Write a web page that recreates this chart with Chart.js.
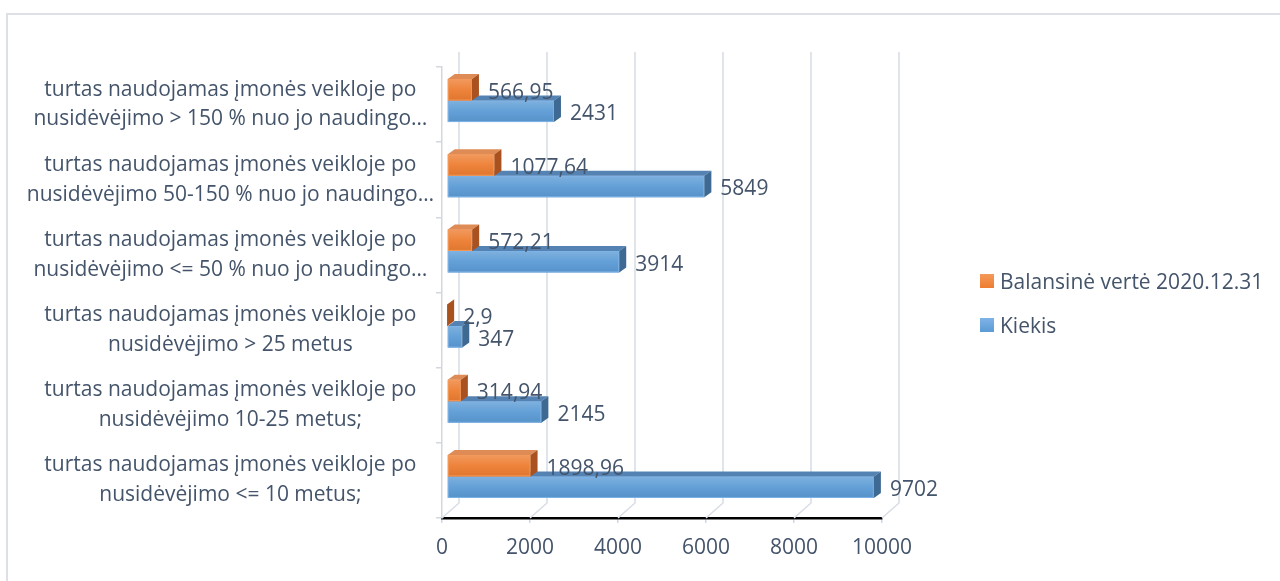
<!DOCTYPE html>
<html>
<head>
<meta charset="utf-8">
<script src="https://cdn.jsdelivr.net/npm/chart.js@4.4.1/dist/chart.umd.min.js"></script>
<style>
    html, body { margin: 0; padding: 0; background: #fff; }
    #wrap { position: relative; width: 1280px; height: 581px; overflow: hidden; }
    #frame {
        position: absolute; left: 6px; top: 13px; width: 1400px; height: 700px;
        border-left: 2px solid #dde1e7; border-top: 2px solid #dde1e7;
    }
    #chart { position: absolute; left: 0; top: 0; }
    #legend {
        position: absolute; left: 980px; top: 266px;
        font-family: "Open Sans", "Noto Sans", sans-serif; font-size: 21px; color: #44546a;
    }
    .item { display: flex; align-items: center; height: 30px; margin-bottom: 14px; white-space: nowrap; }
    .box { width: 14px; height: 14px; margin-right: 6px; }
</style>
</head>
<body>
<div id="wrap">
    <div id="frame"></div>
    <canvas id="chart" width="1280" height="581"></canvas>
    <div id="legend"></div>
</div>
<script>
// data (top to bottom)
const categories = [
    ['turtas naudojamas įmonės veikloje po', 'nusidėvėjimo > 150 % nuo jo naudingo…'],
    ['turtas naudojamas įmonės veikloje po', 'nusidėvėjimo 50-150 % nuo jo naudingo…'],
    ['turtas naudojamas įmonės veikloje po', 'nusidėvėjimo <= 50 % nuo jo naudingo…'],
    ['turtas naudojamas įmonės veikloje po', 'nusidėvėjimo > 25 metus'],
    ['turtas naudojamas įmonės veikloje po', 'nusidėvėjimo 10-25 metus;'],
    ['turtas naudojamas įmonės veikloje po', 'nusidėvėjimo <= 10 metus;']
];
const balansineVerte = [566.95, 1077.64, 572.21, 2.9, 314.94, 1898.96];
const kiekis = [2431, 5849, 3914, 347, 2145, 9702];
const seriesNames = ['Balansinė vertė 2020.12.31', 'Kiekis'];
const xMin = 0, xMax = 10000, xStep = 2000;

const TEXT = '#44546a';
const FONT = '"Open Sans", "Noto Sans", sans-serif';
const FSIZE = 21;

// face colours for the fake 3D look
const faces = [
    { front: '#ed7d31', top: '#de8b55', side: '#a9521f', hi: '#f59a5a' },
    { front: '#5b9bd5', top: '#5483b3', side: '#3e6993', hi: '#7fb3e6' }
];

// bar depth and floor depth
const BAR_DX = 7, BAR_DY = -5;
const FLOOR_DX = 17, FLOOR_DY = -15;
const SHIFT_X = 5, SHIFT_Y = -4;

function fmt(v) {
    return String(v).replace('.', ',');
}

const legend = document.getElementById('legend');
seriesNames.forEach((name, i) => {
    const row = document.createElement('div');
    row.className = 'item';
    row.innerHTML = '<span class="box" style="background:linear-gradient(' + faces[i].hi + ',' + faces[i].front + ')"></span>' + name;
    legend.appendChild(row);
});

const threeD = {
    id: 'threeD',
    beforeDatasetsDraw(chart) {
        const ctx = chart.ctx;
        const x = chart.scales.x;
        const area = chart.chartArea;
        // back wall grid + floor diagonals
        ctx.save();
        ctx.strokeStyle = '#d9dee6';
        ctx.lineWidth = 1.6;
        x.ticks.forEach(t => {
            const px = x.getPixelForValue(t.value);
            ctx.beginPath();
            ctx.moveTo(px, area.bottom);
            ctx.lineTo(px + FLOOR_DX, area.bottom + FLOOR_DY);
            ctx.lineTo(px + FLOOR_DX, area.top + FLOOR_DY);
            ctx.stroke();
        });
        ctx.restore();
        ctx.save();
        ctx.translate(SHIFT_X, SHIFT_Y);
    },
    afterDatasetDraw(chart, args) {
        const ctx = chart.ctx;
        const f = faces[args.index];
        args.meta.data.forEach(el => {
            const p = el.getProps(['x', 'y', 'base', 'height'], true);
            const top = p.y - p.height / 2, bot = p.y + p.height / 2;
            const g = ctx.createLinearGradient(0, top, 0, bot);
            g.addColorStop(0, 'rgba(255,255,255,0.22)');
            g.addColorStop(0.5, 'rgba(255,255,255,0.05)');
            g.addColorStop(1, 'rgba(0,0,0,0.06)');
            ctx.fillStyle = g;
            ctx.fillRect(p.base, top, p.x - p.base, p.height);
            ctx.strokeStyle = f.hi;
            ctx.lineWidth = 1;
            ctx.strokeRect(p.base + 0.5, top + 0.5, Math.max(p.x - p.base - 1, 0), p.height - 1);
            // top face
            ctx.fillStyle = f.top;
            ctx.beginPath();
            ctx.moveTo(p.base, top);
            ctx.lineTo(p.x, top);
            ctx.lineTo(p.x + BAR_DX, top + BAR_DY);
            ctx.lineTo(p.base + BAR_DX, top + BAR_DY);
            ctx.closePath();
            ctx.fill();
            // side face
            ctx.fillStyle = f.side;
            ctx.beginPath();
            ctx.moveTo(p.x, top);
            ctx.lineTo(p.x + BAR_DX, top + BAR_DY);
            ctx.lineTo(p.x + BAR_DX, bot + BAR_DY);
            ctx.lineTo(p.x, bot);
            ctx.closePath();
            ctx.fill();
        });
    },
    afterDatasetsDraw(chart) {
        const ctx = chart.ctx;
        ctx.font = FSIZE + 'px ' + FONT;
        ctx.fillStyle = TEXT;
        ctx.textAlign = 'left';
        ctx.textBaseline = 'middle';
        chart.data.datasets.forEach((ds, i) => {
            chart.getDatasetMeta(i).data.forEach((el, j) => {
                const p = el.getProps(['x', 'y'], true);
                ctx.fillText(fmt(ds.data[j]), p.x + BAR_DX + 9, p.y + 3);
            });
        });
        ctx.restore();
    }
};

new Chart(document.getElementById('chart'), {
    type: 'bar',
    data: {
        labels: categories,
        datasets: [
            { label: seriesNames[0], data: balansineVerte, backgroundColor: faces[0].front },
            { label: seriesNames[1], data: kiekis, backgroundColor: faces[1].front }
        ]
    },
    options: {
        indexAxis: 'y',
        responsive: false,
        animation: false,
        events: [],
        layout: { padding: { top: 67, right: 398, bottom: 0, left: 0 } },
        datasets: { bar: { categoryPercentage: 0.572, barPercentage: 1 } },
        scales: {
            x: {
                min: xMin,
                max: xMax,
                ticks: {
                    stepSize: xStep,
                    color: TEXT,
                    font: { family: FONT, size: FSIZE },
                    padding: 12,
                    callback: v => String(v)
                },
                grid: { drawOnChartArea: false, drawTicks: true, tickLength: 5, color: '#c9d8ea', lineWidth: 1.5 },
                border: { display: true, color: '#000', width: 2.5 },
                afterFit: s => { s.height = 63; }
            },
            y: {
                ticks: {
                    color: TEXT,
                    font: { family: FONT, size: FSIZE, lineHeight: 1.42 },
                    crossAlign: 'center',
                    padding: 2
                },
                grid: { drawOnChartArea: false, drawTicks: true, tickLength: 6, color: '#d3d8df', lineWidth: 1.5 },
                border: { display: true, color: '#d3d8df', width: 1.5 },
                afterFit: s => { s.width = 442; }
            }
        },
        plugins: {
            legend: { display: false },
            tooltip: { enabled: false }
        }
    },
    plugins: [threeD]
});
</script>
</body>
</html>
